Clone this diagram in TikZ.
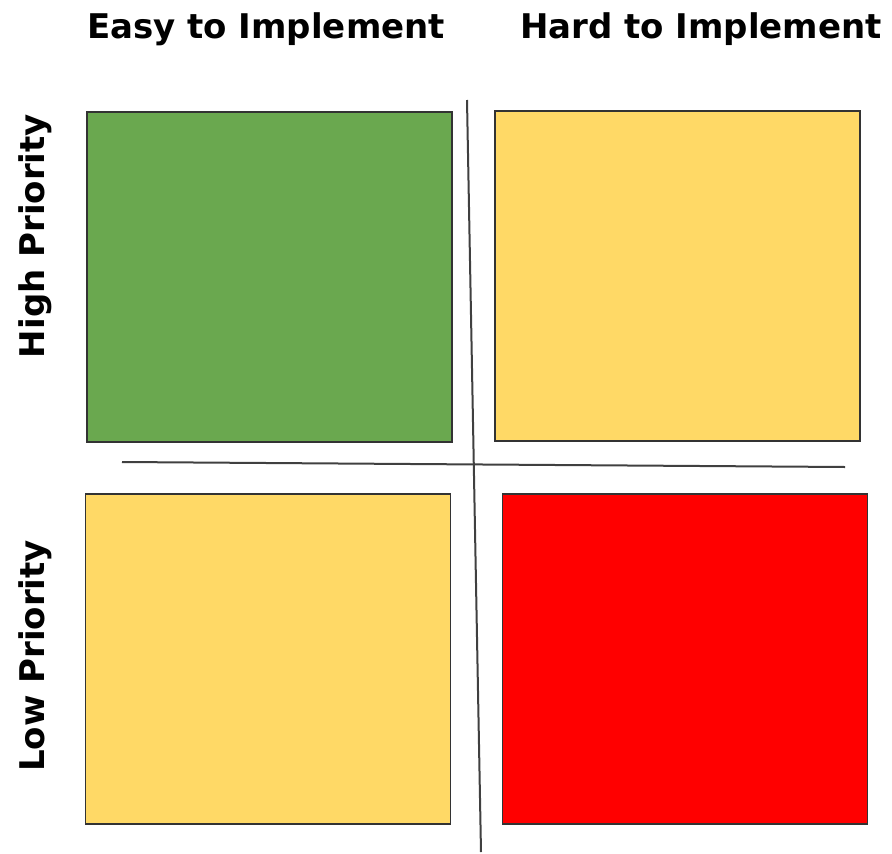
\documentclass[tikz,border=0pt]{standalone}
\usepackage{fontspec}
\setmainfont{DejaVu Sans}
\definecolor{easygreen}{HTML}{6AA84F}
\definecolor{midyellow}{HTML}{FFD966}
\definecolor{hardred}{HTML}{FF0000}
\begin{document}
\begin{tikzpicture}[x=1pt, y=-1pt]
  \tikzstyle{quad}=[rectangle, draw=black!80, line width=1.6pt, inner sep=0pt, minimum width=365pt, minimum height=330pt]
  \tikzstyle{head}=[font=\fontsize{34}{40}\selectfont\bfseries, inner sep=0pt]
  \tikzstyle{axis}=[draw=black!75, line width=2pt]

  \useasboundingbox (0, 0) rectangle (892, 854);

  \node[quad, fill=easygreen] (q1) at (269.5, 277) {};
  \node[quad, fill=midyellow] (q2) at (677.5, 276) {};
  \node[quad, fill=midyellow] (q3) at (268,   659) {};
  \node[quad, fill=hardred]   (q4) at (685,   659) {};

  \coordinate (v1) at (467, 100);
  \coordinate (v2) at (481, 852);
  \coordinate (h1) at (122, 462);
  \coordinate (h2) at (845, 467);

  \path[axis] (v1) edge (v2);
  \path[axis] (h1) edge (h2);

  \node[head] (easy) at (266, 29) {Easy to Implement};
  \node[head] (hard) at (701, 29) {Hard to Implement};
  \node[head, rotate=90] (high) at (35, 236) {High Priority};
  \node[head, rotate=90] (low)  at (35, 656) {Low Priority};

\end{tikzpicture}
\end{document}
